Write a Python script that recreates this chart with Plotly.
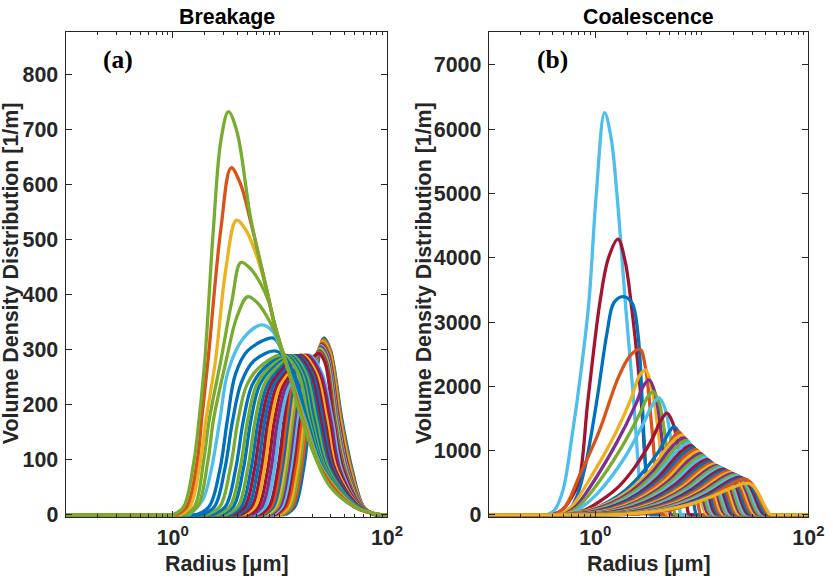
import plotly.graph_objects as go

# ---------------- Panel (a) Breakage: curves drawn from first (initial) to last (final)
# knots in log10(radius [um]) and volume density values [1/m]
breakage_logr = [
    [-1, 1.05, 1.14, 1.22, 1.28, 1.345, 1.41, 1.47, 1.58, 1.675, 1.78, 1.88, 2],
    [-1, 1.03, 1.12, 1.20, 1.26, 1.32, 1.36, 1.406, 1.466, 1.573, 1.668, 1.778, 1.882, 2],
    [-1, 1.01, 1.10, 1.18, 1.24, 1.30, 1.35, 1.402, 1.462, 1.567, 1.661, 1.776, 1.884, 2],
    [-1, 0.99, 1.08, 1.16, 1.22, 1.28, 1.335, 1.398, 1.458, 1.56, 1.654, 1.774, 1.886, 2],
    [-1, 0.97, 1.06, 1.14, 1.20, 1.26, 1.315, 1.349, 1.394, 1.454, 1.553, 1.647, 1.772, 1.888, 2],
    [-1, 0.95, 1.04, 1.12, 1.18, 1.24, 1.30, 1.345, 1.39, 1.45, 1.547, 1.64, 1.77, 1.89, 2],
    [-1, 0.93, 1.02, 1.10, 1.16, 1.22, 1.28, 1.341, 1.386, 1.446, 1.54, 1.633, 1.768, 1.892, 2],
    [-1, 0.91, 1.00, 1.08, 1.14, 1.20, 1.26, 1.30, 1.337, 1.382, 1.442, 1.533, 1.626, 1.766, 1.894, 2],
    [-1, 0.89, 0.98, 1.06, 1.12, 1.18, 1.24, 1.287, 1.333, 1.378, 1.438, 1.527, 1.619, 1.764, 1.896, 2],
    [-1, 0.87, 0.96, 1.04, 1.10, 1.16, 1.22, 1.275, 1.329, 1.374, 1.434, 1.52, 1.612, 1.762, 1.898, 2],
    [-1, 0.85, 0.94, 1.02, 1.08, 1.14, 1.20, 1.263, 1.325, 1.37, 1.43, 1.513, 1.605, 1.76, 1.90, 2],
    [-1, 0.83, 0.92, 1.00, 1.06, 1.12, 1.18, 1.25, 1.321, 1.366, 1.426, 1.507, 1.598, 1.758, 1.90, 2],
    [-1, 0.81, 0.90, 0.98, 1.04, 1.10, 1.16, 1.238, 1.317, 1.362, 1.422, 1.50, 1.59, 1.756, 1.90, 2],
    [-1, 0.77, 0.865, 0.948, 1.01, 1.09, 1.21, 1.27, 1.39, 1.49, 1.575, 1.754, 1.902, 2],
    [-1, 0.735, 0.833, 0.917, 0.98, 1.06, 1.18, 1.25, 1.375, 1.475, 1.56, 1.752, 1.905, 2],
    [-1, 0.70, 0.801, 0.886, 0.95, 1.03, 1.15, 1.23, 1.36, 1.46, 1.545, 1.75, 1.908, 2],
    [-1, 0.665, 0.769, 0.855, 0.92, 1.00, 1.12, 1.21, 1.34, 1.44, 1.53, 1.745, 1.91, 2],
    [-1, 0.63, 0.737, 0.824, 0.89, 0.97, 1.09, 1.19, 1.32, 1.42, 1.515, 1.74, 1.912, 2],
    [-1, 0.595, 0.705, 0.793, 0.86, 0.94, 1.06, 1.17, 1.30, 1.40, 1.50, 1.735, 1.915, 2],
    [-1, 0.56, 0.673, 0.762, 0.83, 0.91, 1.03, 1.15, 1.28, 1.38, 1.485, 1.73, 1.918, 2],
    [-1, 0.525, 0.64, 0.73, 0.80, 0.88, 1.00, 1.13, 1.26, 1.36, 1.47, 1.725, 1.92, 2],
    [-1, 0.49, 0.608, 0.699, 0.77, 0.85, 0.97, 1.11, 1.24, 1.34, 1.455, 1.72, 1.922, 2],
    [-1, 0.445, 0.566, 0.658, 0.73, 0.81, 0.93, 1.09, 1.22, 1.32, 1.44, 1.717, 1.925, 2],
    [-1, 0.41, 0.534, 0.627, 0.70, 0.78, 0.90, 1.07, 1.20, 1.30, 1.43, 1.714, 1.928, 2],
    [-1, 0.365, 0.492, 0.586, 0.66, 0.74, 0.86, 1.05, 1.185, 1.285, 1.42, 1.712, 1.93, 2],
    [-1, 0.31, 0.44, 0.535, 0.61, 0.69, 0.81, 1.03, 1.17, 1.27, 1.415, 1.71, 1.93, 2],
    [-1, 0.27, 0.39, 0.485, 0.56, 0.64, 0.76, 0.97, 1.12, 1.255, 1.41, 1.705, 1.95, 2],
    [-1, 0.22, 0.34, 0.44, 0.51, 0.585, 0.70, 0.94, 1.0, 1.1, 1.245, 1.405, 1.705, 1.95, 2],
    [-1, 0.15, 0.28, 0.36, 0.44, 0.516, 0.657, 0.83, 0.93, 1.0, 1.1, 1.235, 1.40, 1.70, 1.95, 2],
    [-1, 0.12, 0.23, 0.33, 0.38, 0.5, 0.6, 0.70, 0.79, 0.88, 0.96, 1.02, 1.1, 1.23, 1.396, 1.70, 1.95, 2],
    [-1, 0.09, 0.2, 0.29, 0.34, 0.45, 0.554, 0.636, 0.72, 0.82, 0.9, 0.96, 1.02, 1.1, 1.225, 1.393, 1.695, 1.95, 2],
    [-1, 0.06, 0.16, 0.26, 0.31, 0.40, 0.495, 0.595, 0.68, 0.78, 0.887, 0.94, 1.02, 1.1, 1.22, 1.39, 1.695, 1.95, 2],
    [-1, 0.03, 0.13, 0.23, 0.27, 0.33, 0.45, 0.545, 0.63, 0.73, 0.887, 0.94, 1.017, 1.1, 1.215, 1.388, 1.69, 1.95, 2],
    [-1, 0.0, 0.1, 0.2, 0.245, 0.3, 0.38, 0.45, 0.52, 0.6, 0.73, 0.887, 0.94, 1.017, 1.08, 1.158, 1.21, 1.315, 1.47, 1.69, 1.88, 1.95, 2],
]
breakage_vals = [
    [0, 0, 15, 82, 172, 263, 321, 300, 172, 82, 15, 0, 0],
    [0, 0, 15, 82, 172, 250, 290, 319, 301, 172, 82, 15, 0, 0],
    [0, 0, 15, 82, 172, 250, 285, 316, 298, 172, 82, 15, 0, 0],
    [0, 0, 15, 82, 172, 250, 282, 314, 296, 172, 82, 15, 0, 0],
    [0, 0, 15, 82, 172, 250, 279, 287, 312, 294, 172, 82, 15, 0, 0],
    [0, 0, 15, 82, 172, 250, 279, 287, 309, 291, 172, 82, 15, 0, 0],
    [0, 0, 15, 82, 172, 250, 279, 287, 307, 289, 172, 82, 15, 0, 0],
    [0, 0, 15, 82, 172, 250, 279, 285, 288, 305, 287, 172, 82, 15, 0, 0],
    [0, 0, 15, 82, 172, 250, 279, 284, 287, 302, 284, 172, 82, 15, 0, 0],
    [0, 0, 15, 82, 172, 250, 279, 284, 287, 300, 282, 172, 82, 15, 0, 0],
    [0, 0, 15, 82, 172, 250, 279, 284, 287, 298, 280, 172, 82, 15, 0, 0],
    [0, 0, 15, 82, 172, 250, 279, 284, 287, 296, 278, 172, 82, 15, 0, 0],
    [0, 0, 15, 82, 172, 250, 280, 285, 288, 293, 276, 172, 82, 15, 0, 0],
    [0, 0, 15, 82, 172, 235, 268, 290, 258, 172, 82, 15, 0, 0],
    [0, 0, 15, 82, 172, 235, 268, 290, 258, 172, 82, 15, 0, 0],
    [0, 0, 15, 82, 172, 235, 268, 290, 258, 172, 82, 15, 0, 0],
    [0, 0, 15, 82, 172, 235, 268, 290, 258, 172, 82, 15, 0, 0],
    [0, 0, 15, 82, 172, 235, 268, 290, 258, 172, 82, 15, 0, 0],
    [0, 0, 15, 82, 172, 235, 268, 289, 258, 172, 82, 15, 0, 0],
    [0, 0, 15, 82, 172, 235, 268, 289, 258, 172, 82, 15, 0, 0],
    [0, 0, 15, 82, 172, 235, 268, 289, 258, 172, 82, 15, 0, 0],
    [0, 0, 15, 82, 172, 235, 268, 289, 258, 172, 82, 15, 0, 0],
    [0, 0, 15, 82, 172, 235, 268, 289, 258, 172, 82, 15, 0, 0],
    [0, 0, 15, 82, 172, 235, 268, 289, 258, 172, 82, 15, 0, 0],
    [0, 0, 15, 82, 172, 235, 268, 290, 258, 172, 82, 15, 0, 0],
    [0, 0, 15, 82, 172, 235, 268, 290, 258, 172, 82, 15, 0, 0],
    [0, 0, 15, 82, 172, 240, 280, 297, 262, 172, 82, 15, 0, 0],
    [0, 0, 15, 82, 172, 255, 298, 321, 306, 258, 172, 82, 15, 0, 0],
    [0, 0, 27, 82, 172, 260, 320, 345, 334, 305, 252, 172, 82, 15, 0, 0],
    [0, 0, 14, 100, 172, 281, 360, 396, 385, 360, 330, 300, 250, 172, 82, 15, 0, 0],
    [0, 0, 14, 100, 172, 281, 390, 458, 448, 420, 385, 340, 300, 250, 172, 82, 15, 0, 0],
    [0, 0, 14, 100, 172, 281, 445, 535, 518, 472, 400, 352, 299, 249, 172, 82, 15, 0, 0],
    [0, 0, 14, 100, 172, 281, 520, 630, 602, 530, 400, 353, 300, 249, 172, 82, 15, 0, 0],
    [0, 0, 14, 100, 172, 281, 520, 680, 732, 695, 536, 400, 354, 300, 263, 203, 172, 112, 51, 15, 3, 0, 0],
]
breakage_colors = [
    "blue", "orange", "green", "yellow", "orange", "red", "lightblue", "purple",
    "green", "yellow", "blue", "orange", "red", "lightblue", "purple", "red",
    "yellow", "red", "blue", "red", "blue", "green", "blue", "green", "blue",
    "green", "blue", "blue", "lightblue", "green", "green", "yellow", "orange", "green",
]

# ---------------- Panel (b) Coalescence: curves drawn from first to last
coalescence_logr = [
    [-1, -0.45, -0.38, -0.3, -0.22, -0.14, -0.06, 0.01, 0.088, 0.15, 0.203, 0.288, 0.36, 0.40, 0.43, 0.46, 2],
    [-1, -0.4, -0.31, -0.23, -0.156, -0.068, 0.047, 0.125, 0.213, 0.28, 0.344, 0.39, 0.43, 0.47, 0.51, 2],
    [-1, -0.35, -0.25, -0.17, -0.094, 0.016, 0.11, 0.175, 0.26, 0.344, 0.40, 0.44, 0.47, 0.52, 2],
    [-1, -0.38, -0.28, -0.15, 0.03, 0.22, 0.33, 0.42, 0.47, 0.53, 0.58, 0.62, 2],
    [-1, -0.33, -0.22, -0.08, 0.19, 0.344, 0.41, 0.47, 0.52, 0.594, 0.64, 0.67, 2],
    [-1, -0.3, -0.19, -0.05, 0.2, 0.38, 0.45, 0.505, 0.56, 0.625, 0.675, 0.705, 2],
    [-1, -0.28, -0.17, -0.02, 0.24, 0.42, 0.49, 0.545, 0.60, 0.665, 0.715, 0.745, 2],
    [-1, -0.26, -0.15, 0.02, 0.28, 0.46, 0.54, 0.60, 0.655, 0.72, 0.77, 0.80, 2],
    [-1, -0.25, -0.094, 0.063, 0.22, 0.375, 0.53, 0.62, 0.672, 0.73, 0.795, 0.845, 0.875, 2],
    [-1, -0.23, -0.05, 0.12, 0.28, 0.44, 0.6, 0.69, 0.74, 0.80, 0.865, 0.915, 0.945, 2],
    [-1, -0.22, -0.02, 0.16, 0.32, 0.48, 0.64, 0.73, 0.78, 0.84, 0.905, 0.955, 0.985, 2],
    [-1, -0.39, -0.09, 0.11, 0.31, 0.51, 0.71, 0.81, 0.87, 0.93, 0.98, 1.02, 1.05, 2],
    [-1, -0.368, -0.068, 0.132, 0.332, 0.532, 0.732, 0.832, 0.892, 0.952, 1.002, 1.042, 1.072, 2],
    [-1, -0.346, -0.046, 0.154, 0.354, 0.554, 0.754, 0.854, 0.914, 0.974, 1.024, 1.064, 1.094, 2],
    [-1, -0.325, -0.025, 0.175, 0.375, 0.575, 0.775, 0.875, 0.935, 0.995, 1.045, 1.085, 1.115, 2],
    [-1, -0.303, -0.003, 0.197, 0.397, 0.597, 0.797, 0.897, 0.957, 1.017, 1.067, 1.107, 1.137, 2],
    [-1, -0.281, 0.019, 0.219, 0.419, 0.619, 0.819, 0.919, 0.979, 1.039, 1.089, 1.129, 1.159, 2],
    [-1, -0.259, 0.041, 0.241, 0.441, 0.641, 0.841, 0.941, 1.001, 1.061, 1.111, 1.151, 1.181, 2],
    [-1, -0.237, 0.063, 0.263, 0.463, 0.663, 0.863, 0.963, 1.023, 1.083, 1.133, 1.173, 1.203, 2],
    [-1, -0.215, 0.085, 0.285, 0.485, 0.685, 0.885, 0.985, 1.045, 1.105, 1.155, 1.195, 1.225, 2],
    [-1, -0.194, 0.106, 0.306, 0.506, 0.706, 0.906, 1.006, 1.066, 1.126, 1.176, 1.216, 1.246, 2],
    [-1, -0.172, 0.128, 0.328, 0.528, 0.728, 0.928, 1.028, 1.088, 1.148, 1.198, 1.238, 1.268, 2],
    [-1, -0.15, 0.15, 0.35, 0.55, 0.75, 0.95, 1.05, 1.11, 1.17, 1.22, 1.26, 1.29, 2],
    [-1, -0.128, 0.172, 0.372, 0.572, 0.772, 0.972, 1.072, 1.132, 1.192, 1.242, 1.282, 1.312, 2],
    [-1, -0.106, 0.194, 0.394, 0.594, 0.794, 0.994, 1.094, 1.154, 1.214, 1.264, 1.304, 1.334, 2],
    [-1, -0.084, 0.216, 0.416, 0.616, 0.816, 1.016, 1.116, 1.176, 1.236, 1.286, 1.326, 1.356, 2],
    [-1, -0.062, 0.238, 0.438, 0.638, 0.838, 1.038, 1.138, 1.198, 1.258, 1.308, 1.348, 1.378, 2],
    [-1, -0.041, 0.259, 0.459, 0.659, 0.859, 1.059, 1.159, 1.219, 1.279, 1.329, 1.369, 1.399, 2],
    [-1, -0.019, 0.281, 0.481, 0.681, 0.881, 1.081, 1.181, 1.241, 1.301, 1.351, 1.391, 1.421, 2],
    [-1, 0.003, 0.303, 0.503, 0.703, 0.903, 1.103, 1.203, 1.263, 1.323, 1.373, 1.413, 1.443, 2],
    [-1, 0.025, 0.325, 0.525, 0.725, 0.925, 1.125, 1.225, 1.285, 1.345, 1.395, 1.435, 1.465, 2],
    [-1, 0.047, 0.347, 0.547, 0.747, 0.947, 1.147, 1.247, 1.307, 1.367, 1.417, 1.457, 1.487, 2],
    [-1, 0.069, 0.369, 0.569, 0.769, 0.969, 1.169, 1.269, 1.329, 1.389, 1.439, 1.479, 1.509, 2],
    [-1, 0.09, 0.39, 0.59, 0.79, 0.99, 1.19, 1.29, 1.35, 1.41, 1.46, 1.50, 1.53, 2],
    [-1, 0.112, 0.412, 0.612, 0.812, 1.012, 1.212, 1.312, 1.372, 1.432, 1.482, 1.522, 1.552, 2],
    [-1, 0.134, 0.434, 0.634, 0.834, 1.034, 1.234, 1.334, 1.394, 1.454, 1.504, 1.544, 1.574, 2],
    [-1, 0.156, 0.456, 0.656, 0.856, 1.056, 1.256, 1.356, 1.416, 1.476, 1.526, 1.566, 1.596, 2],
    [-1, 0.178, 0.478, 0.678, 0.878, 1.078, 1.278, 1.378, 1.438, 1.498, 1.548, 1.588, 1.618, 2],
    [-1, 0.20, 0.50, 0.70, 0.90, 1.10, 1.30, 1.40, 1.46, 1.52, 1.57, 1.61, 1.64, 2],
    [-1, 0.1, 0.35, 0.656, 0.9, 1.093, 1.25, 1.42, 1.48, 1.53, 1.58, 1.61, 1.64, 2],
]
coalescence_vals = [
    [0, 0, 78, 400, 1200, 2150, 3300, 5000, 6260, 5850, 5000, 3190, 1790, 850, 250, 0, 0],
    [0, 0, 78, 250, 500, 1789, 3344, 4000, 4290, 3950, 3190, 2500, 1800, 800, 0, 0],
    [0, 0, 60, 300, 753, 1789, 2826, 3300, 3396, 3300, 2826, 1789, 800, 0, 0],
    [0, 0, 130, 600, 1270, 2150, 2480, 2575, 2300, 1374, 440, 0, 0],
    [0, 0, 130, 480, 1270, 1840, 2150, 2256, 2050, 1270, 400, 0, 0],
    [0, 0, 120, 430, 1120, 1720, 2000, 2100, 1900, 1200, 380, 0, 0],
    [0, 0, 110, 390, 1030, 1580, 1830, 1918, 1740, 1100, 350, 0, 0],
    [0, 0, 90, 330, 900, 1450, 1720, 1820, 1650, 1050, 330, 0, 0],
    [0, 0, 78, 233, 440, 751, 1167, 1480, 1582, 1420, 900, 290, 0, 0],
    [0, 0, 70, 200, 380, 650, 1000, 1280, 1374, 1230, 800, 260, 0, 0],
    [0, 0, 65, 190, 360, 610, 950, 1200, 1296, 1160, 760, 245, 0, 0],
    [0, 0, 62, 174, 372, 682, 1116, 1240, 1116, 769, 335, 74, 0, 0],
    [0, 0, 60, 168, 360, 659, 1079, 1199, 1079, 743, 324, 72, 0, 0],
    [0, 0, 58, 162, 347, 637, 1042, 1158, 1042, 718, 313, 69, 0, 0],
    [0, 0, 56, 157, 336, 615, 1007, 1119, 1007, 694, 302, 67, 0, 0],
    [0, 0, 54, 151, 323, 593, 970, 1078, 970, 668, 291, 65, 0, 0],
    [0, 0, 52, 146, 313, 574, 939, 1043, 939, 647, 282, 63, 0, 0],
    [0, 0, 51, 142, 304, 557, 912, 1013, 912, 628, 274, 61, 0, 0],
    [0, 0, 49, 137, 295, 540, 884, 982, 884, 609, 265, 59, 0, 0],
    [0, 0, 48, 133, 285, 523, 856, 951, 856, 590, 257, 57, 0, 0],
    [0, 0, 46, 129, 277, 507, 830, 922, 830, 572, 249, 55, 0, 0],
    [0, 0, 45, 125, 267, 490, 802, 891, 802, 552, 241, 53, 0, 0],
    [0, 0, 43, 120, 258, 473, 774, 860, 774, 533, 232, 52, 0, 0],
    [0, 0, 41, 116, 249, 456, 746, 829, 746, 514, 224, 50, 0, 0],
    [0, 0, 40, 112, 240, 441, 721, 801, 721, 497, 216, 48, 0, 0],
    [0, 0, 39, 110, 235, 431, 705, 783, 705, 485, 211, 47, 0, 0],
    [0, 0, 38, 107, 230, 421, 689, 765, 689, 474, 207, 46, 0, 0],
    [0, 0, 37, 105, 224, 411, 673, 748, 673, 464, 202, 45, 0, 0],
    [0, 0, 36, 102, 219, 401, 656, 729, 656, 452, 197, 44, 0, 0],
    [0, 0, 36, 100, 213, 391, 640, 711, 640, 441, 192, 43, 0, 0],
    [0, 0, 35, 97, 208, 381, 624, 693, 624, 430, 187, 42, 0, 0],
    [0, 0, 34, 95, 203, 371, 608, 675, 608, 419, 182, 41, 0, 0],
    [0, 0, 33, 92, 197, 361, 591, 657, 591, 407, 177, 39, 0, 0],
    [0, 0, 32, 90, 192, 352, 576, 640, 576, 397, 173, 38, 0, 0],
    [0, 0, 31, 87, 187, 342, 560, 622, 560, 386, 168, 37, 0, 0],
    [0, 0, 30, 85, 182, 333, 545, 605, 545, 375, 163, 36, 0, 0],
    [0, 0, 29, 82, 176, 323, 528, 587, 528, 364, 158, 35, 0, 0],
    [0, 0, 29, 80, 172, 315, 515, 572, 515, 355, 154, 34, 0, 0],
    [0, 0, 28, 78, 167, 307, 502, 558, 502, 346, 151, 33, 0, 0],
    [0, 0, 20, 78, 170, 285, 400, 493, 455, 337, 170, 78, 0, 0],
]

y_ticks_a = [0, 100, 200, 300, 400, 500, 600, 700, 800]
y_ticks_b = [0, 1000, 2000, 3000, 4000, 5000, 6000, 7000]
x_ticks = [1, 100]
x_tick_text = ["10<sup>0</sup>", "10<sup>2</sup>"]
x_minor = [0.2, 0.3, 0.4, 0.5, 0.6, 0.7, 0.8, 0.9, 2, 3, 4, 5, 6, 7, 8, 9, 10,
           20, 30, 40, 50, 60, 70, 80, 90]

# ---------------- styles
PALETTE = {
    "blue": "#0072BD", "orange": "#D95319", "yellow": "#EDB120", "purple": "#7E2F8E",
    "green": "#77AC30", "lightblue": "#4DBEEE", "red": "#A2142F",
}
CYCLE = ["blue", "orange", "yellow", "purple", "green", "lightblue", "red"]
AX = "#262626"
SANS = "Liberation Sans, Arial, sans-serif"
SERIF = "Liberation Serif, Times New Roman, serif"

# The photographed page comes out at ~98% size (x' = 7.7 + 0.9815 x, y' = 0.9815 y),
# so layout positions are given as target picture pixels and mapped back here.
W, H = 833, 584
S, OX = 0.9815, 7.7


def px(X):
    return (X - OX) / S / W


def py(Y):
    return 1 - Y / S / H


LW = 3.3
FS = 21 / S

fig = go.Figure()


def add_curve(lr, v, color, xa, ya):
    x = [10 ** a for a in lr]
    # straight zero baseline outside the curve, smooth spline for the curve body
    i0 = 0
    while i0 + 1 < len(v) and v[i0 + 1] == 0:
        i0 += 1
    i1 = len(v) - 1
    while i1 - 1 > i0 and v[i1 - 1] == 0:
        i1 -= 1
    col = PALETTE[color]
    fig.add_trace(go.Scatter(
        x=x[:i0 + 1] + [None] + x[i1:], y=v[:i0 + 1] + [None] + v[i1:], mode="lines",
        line=dict(color=col, width=LW), connectgaps=False,
        xaxis=xa, yaxis=ya, showlegend=False, hoverinfo="skip"))
    fig.add_trace(go.Scatter(
        x=x[i0:i1 + 1], y=v[i0:i1 + 1], mode="lines",
        line=dict(color=col, width=LW, shape="spline", smoothing=1.0),
        xaxis=xa, yaxis=ya, showlegend=False, hoverinfo="skip"))


for lr, v, c in zip(breakage_logr, breakage_vals, breakage_colors):
    add_curve(lr, v, c, "x", "y")
for k, (lr, v) in enumerate(zip(coalescence_logr, coalescence_vals)):
    add_curve(lr, v, CYCLE[(k + 5) % 7], "x2", "y2")

tickfont = dict(family=SANS, size=FS, color=AX, weight="bold")


def xaxis(domain, anchor):
    return dict(domain=domain, anchor=anchor, type="log", range=[-1, 2],
                tickmode="array", tickvals=x_ticks, ticktext=x_tick_text,
                ticks="inside", ticklen=6, tickwidth=1, tickcolor=AX,
                ticklabelstandoff=2,
                showline=True, linecolor=AX, linewidth=1, mirror="ticks",
                showgrid=False, zeroline=False, tickfont=tickfont,
                minor=dict(tickmode="array", tickvals=x_minor, ticks="inside",
                           ticklen=3, tickwidth=1, tickcolor=AX, showgrid=False))


def yaxis(domain, anchor, rng, vals):
    return dict(domain=domain, anchor=anchor, range=rng,
                tickmode="array", tickvals=vals, ticktext=[str(v) for v in vals],
                ticks="inside", ticklen=6, tickwidth=1, tickcolor=AX,
                ticklabelstandoff=2,
                showline=True, linecolor=AX, linewidth=1, mirror="ticks",
                showgrid=False, zeroline=False, tickfont=tickfont)


ydom = [py(516.7), py(31.7)]
fig.update_layout(
    width=W, height=H, margin=dict(l=0, r=0, t=0, b=0),
    paper_bgcolor="white", plot_bgcolor="white",
    xaxis=xaxis([px(73.3), px(395.0)], "y"),
    yaxis=yaxis(ydom, "x", [-3, 877], y_ticks_a),
    xaxis2=xaxis([px(496.7), px(816.7)], "y2"),
    yaxis2=yaxis(ydom, "x2", [-26, 7518], y_ticks_b),
)

ann = []
for xc, title in [(234.5, "Breakage"), (657.0, "Coalescence")]:
    ann.append(dict(text="<b>%s</b>" % title, x=px(xc), y=py(17), xref="paper", yref="paper",
                    showarrow=False, xanchor="center", yanchor="middle",
                    font=dict(family=SANS, size=FS, color="black")))
    ann.append(dict(text="<b>Radius [μm]</b>", x=px(xc), y=py(564), xref="paper", yref="paper",
                    showarrow=False, xanchor="center", yanchor="middle",
                    font=dict(family=SANS, size=FS, color=AX)))
for xc, lab in [(126, "(a)"), (561, "(b)")]:
    ann.append(dict(text="<b>%s</b>" % lab, x=px(xc), y=py(60), xref="paper", yref="paper",
                    showarrow=False, xanchor="center", yanchor="middle",
                    font=dict(family=SERIF, size=25 / S, color="black")))
for xc in [19, 432]:
    ann.append(dict(text="<b>Volume Density Distribution [1/m]</b>", x=px(xc), y=py(273),
                    xref="paper", yref="paper", showarrow=False, textangle=-90,
                    xanchor="center", yanchor="middle",
                    font=dict(family=SANS, size=FS, color=AX)))
fig.update_layout(annotations=ann)

fig.write_html("out.html")
